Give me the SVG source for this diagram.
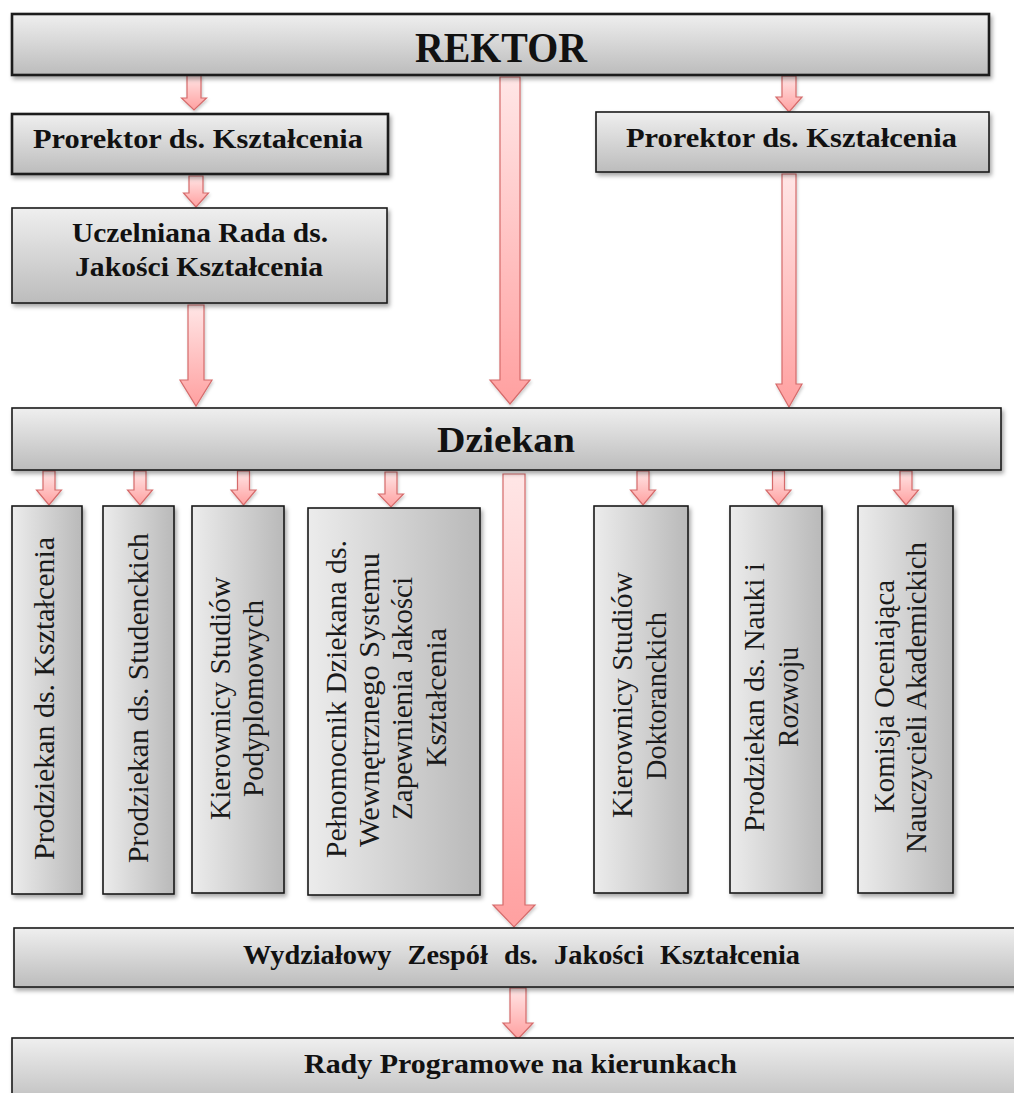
<svg xmlns="http://www.w3.org/2000/svg" width="1014" height="1093" viewBox="0 0 1014 1093">
  <defs>
    <linearGradient id="gH" x1="0" y1="0" x2="0" y2="1">
      <stop offset="0" stop-color="#efefef"/>
      <stop offset="1" stop-color="#bcbcbc"/>
    </linearGradient>
    <linearGradient id="gV" x1="0" y1="0" x2="1" y2="0">
      <stop offset="0" stop-color="#ececec"/>
      <stop offset="1" stop-color="#b9b9b9"/>
    </linearGradient>
    <linearGradient id="gA" x1="0" y1="0" x2="0" y2="1">
      <stop offset="0" stop-color="#ffe6e6"/>
      <stop offset="1" stop-color="#ffa0a0"/>
    </linearGradient>
    <filter id="sh" x="-5%" y="-10%" width="115%" height="130%">
      <feDropShadow dx="2" dy="3" stdDeviation="2" flood-color="#000" flood-opacity="0.35"/>
    </filter>
    <filter id="shA" x="-20%" y="-10%" width="150%" height="130%">
      <feDropShadow dx="1" dy="2" stdDeviation="1.5" flood-color="#000" flood-opacity="0.2"/>
    </filter>
  </defs>
  <style>
    .bh { fill: url(#gH); stroke: #1a1a1a; stroke-width: 1.6; filter: url(#sh); }
    .bv { fill: url(#gV); stroke: #1a1a1a; stroke-width: 1.6; filter: url(#sh); }
    .thick { stroke-width: 2.6; }
    .tb { font-family: "Liberation Serif", "Times New Roman", serif; font-weight: bold; fill: #111; text-anchor: middle; }
    .tv { font-family: "Liberation Serif", "Times New Roman", serif; font-size: 29px; fill: #1a1a1a; text-anchor: middle; }
    .ws { word-spacing: 9px; }
    .arr { fill: url(#gA); stroke: #d56b6b; stroke-width: 1.2; stroke-linejoin: miter; filter: url(#shA); }
  </style>
  <rect width="1014" height="1093" fill="#ffffff"/>

  <g id="connectors">
    <path class="arr" d="M187,75 L201,75 L201,98 L206.5,98 L194,110 L181.5,98 L187,98 Z"/>
    <path class="arr" d="M500,77 L520,77 L520,380 L530,380 L510,404 L490,380 L500,380 Z"/>
    <path class="arr" d="M782,76 L796,76 L796,97 L802,97 L789,112 L776,97 L782,97 Z"/>
    <path class="arr" d="M189,176 L203,176 L203,193 L208.5,193 L196,207 L183.5,193 L189,193 Z"/>
    <path class="arr" d="M188,305 L204,305 L204,380 L212,380 L196,406 L180,380 L188,380 Z"/>
    <path class="arr" d="M782,174 L796,174 L796,384 L802,384 L789,407 L776,384 L782,384 Z"/>
    <path class="arr" d="M43,471 L55,471 L55,490 L61.5,490 L49,505 L36.5,490 L43,490 Z"/>
    <path class="arr" d="M134,471 L146,471 L146,490 L152.5,490 L140,505 L127.5,490 L134,490 Z"/>
    <path class="arr" d="M237.5,471 L249.5,471 L249.5,490 L256,490 L243.5,505 L231,490 L237.5,490 Z"/>
    <path class="arr" d="M385,472 L397,472 L397,494 L403.5,494 L391,507 L378.5,494 L385,494 Z"/>
    <path class="arr" d="M637,471 L649,471 L649,490 L655.5,490 L643,505 L630.5,490 L637,490 Z"/>
    <path class="arr" d="M772.5,471 L784.5,471 L784.5,490 L791,490 L778.5,505 L766,490 L772.5,490 Z"/>
    <path class="arr" d="M900,471 L912,471 L912,490 L918.5,490 L906,505 L893.5,490 L900,490 Z"/>
    <path class="arr" d="M503,474 L525,474 L525,905 L535,905 L514,927 L493,905 L503,905 Z"/>
    <path class="arr" d="M510,988 L526,988 L526,1023 L533,1023 L518,1039 L503,1023 L510,1023 Z"/>
  </g>

  <g id="rektor">
    <rect class="bh thick" x="12" y="14" width="977" height="61"/>
    <text class="tb" x="501" y="62" font-size="42" textLength="172" lengthAdjust="spacingAndGlyphs">REKTOR</text>
  </g>
  <g id="prorektor-left">
    <rect class="bh thick" x="12" y="114" width="376" height="60"/>
    <text class="tb" x="198" y="148" font-size="28" textLength="330" lengthAdjust="spacingAndGlyphs">Prorektor ds. Kształcenia</text>
  </g>
  <g id="prorektor-right">
    <rect class="bh" x="596" y="112" width="393" height="60"/>
    <text class="tb" x="791.5" y="147" font-size="28" textLength="331" lengthAdjust="spacingAndGlyphs">Prorektor ds. Kształcenia</text>
  </g>
  <g id="uczelniana-rada">
    <rect class="bh" x="12" y="208" width="375" height="95"/>
    <text class="tb" x="200" y="242" font-size="28" textLength="256" lengthAdjust="spacingAndGlyphs">Uczelniana Rada ds.</text>
    <text class="tb" x="199" y="276" font-size="28" textLength="248" lengthAdjust="spacingAndGlyphs">Jakości Kształcenia</text>
  </g>
  <g id="dziekan">
    <rect class="bh" x="12" y="408" width="989" height="62"/>
    <text class="tb" x="506" y="452" font-size="36" textLength="138" lengthAdjust="spacingAndGlyphs">Dziekan</text>
  </g>

  <g id="prodziekan-ksztalcenia">
    <rect class="bv" x="12" y="506" width="70" height="388"/>
    <text class="tv" transform="translate(54,698.5) rotate(-90)" textLength="323" lengthAdjust="spacingAndGlyphs">Prodziekan ds. Kształcenia</text>
  </g>
  <g id="prodziekan-studenckich">
    <rect class="bv" x="103" y="506" width="71" height="388"/>
    <text class="tv" transform="translate(148,698) rotate(-90)" textLength="330" lengthAdjust="spacingAndGlyphs">Prodziekan ds. Studenckich</text>
  </g>
  <g id="kierownicy-podyplomowych">
    <rect class="bv" x="192" y="506" width="92" height="387"/>
    <text class="tv" transform="translate(230,698.5) rotate(-90)" textLength="243" lengthAdjust="spacingAndGlyphs">Kierownicy Studiów</text>
    <text class="tv" transform="translate(263,698.5) rotate(-90)" textLength="197" lengthAdjust="spacingAndGlyphs">Podyplomowych</text>
  </g>
  <g id="pelnomocnik">
    <rect class="bv" x="308" y="508" width="172" height="387"/>
    <text class="tv" transform="translate(346,699) rotate(-90)" textLength="318" lengthAdjust="spacingAndGlyphs">Pełnomocnik Dziekana ds.</text>
    <text class="tv" transform="translate(379,700) rotate(-90)" textLength="294" lengthAdjust="spacingAndGlyphs">Wewnętrznego Systemu</text>
    <text class="tv" transform="translate(412,698.5) rotate(-90)" textLength="243" lengthAdjust="spacingAndGlyphs">Zapewnienia Jakości</text>
    <text class="tv" transform="translate(446,697.5) rotate(-90)" textLength="139" lengthAdjust="spacingAndGlyphs">Kształcenia</text>
  </g>
  <g id="kierownicy-doktoranckich">
    <rect class="bv" x="594" y="506" width="94" height="387"/>
    <text class="tv" transform="translate(632,695) rotate(-90)" textLength="246" lengthAdjust="spacingAndGlyphs">Kierownicy Studiów</text>
    <text class="tv" transform="translate(666,696) rotate(-90)" textLength="168" lengthAdjust="spacingAndGlyphs">Doktoranckich</text>
  </g>
  <g id="prodziekan-nauki">
    <rect class="bv" x="730" y="506" width="92" height="387"/>
    <text class="tv" transform="translate(764,697.5) rotate(-90)" textLength="269" lengthAdjust="spacingAndGlyphs">Prodziekan ds. Nauki i</text>
    <text class="tv" transform="translate(798,697) rotate(-90)" textLength="100" lengthAdjust="spacingAndGlyphs">Rozwoju</text>
  </g>
  <g id="komisja">
    <rect class="bv" x="858" y="506" width="95" height="387"/>
    <text class="tv" transform="translate(894,696.5) rotate(-90)" textLength="233" lengthAdjust="spacingAndGlyphs">Komisja Oceniająca</text>
    <text class="tv" transform="translate(926,697.5) rotate(-90)" textLength="311" lengthAdjust="spacingAndGlyphs">Nauczycieli Akademickich</text>
  </g>

  <g id="wydzialowy-zespol">
    <rect class="bh" x="14" y="928" width="1010" height="59"/>
    <text class="tb ws" x="521.5" y="964" font-size="28" textLength="557" lengthAdjust="spacingAndGlyphs">Wydziałowy Zespół ds. Jakości Kształcenia</text>
  </g>
  <g id="rady-programowe">
    <rect class="bh" x="12" y="1038" width="1012" height="70"/>
    <text class="tb" x="520.5" y="1073" font-size="28" textLength="433" lengthAdjust="spacingAndGlyphs">Rady Programowe na kierunkach</text>
  </g>
</svg>
